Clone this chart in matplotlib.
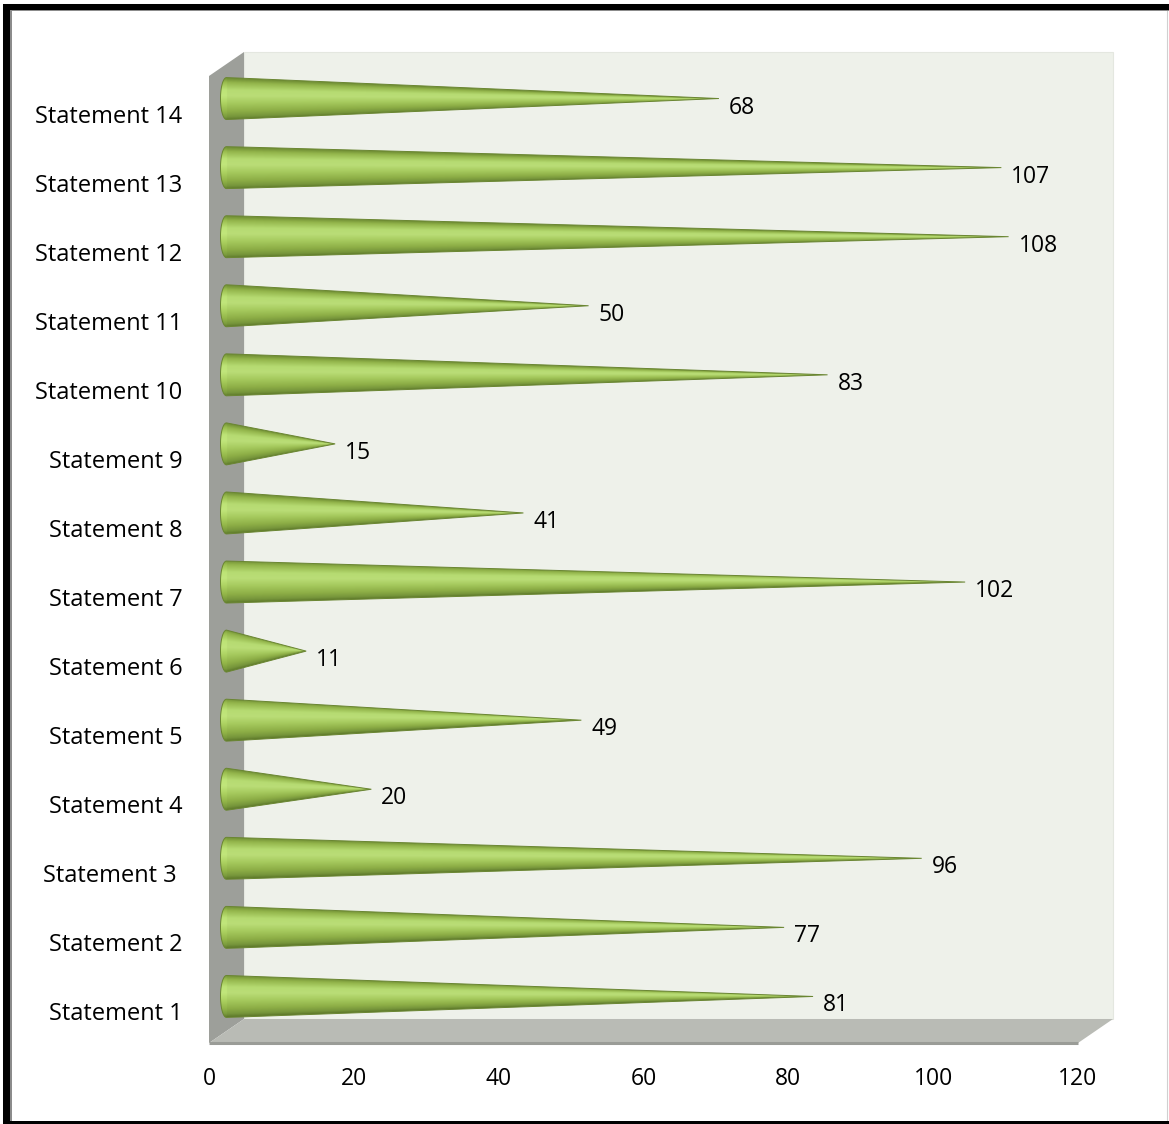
import numpy as np
import matplotlib
matplotlib.use("Agg")
import matplotlib.pyplot as plt
from matplotlib.patches import Polygon, Rectangle
from matplotlib.transforms import ScaledTranslation
from matplotlib.colors import LinearSegmentedColormap

categories = ["Statement 1", "Statement 2", "Statement 3 ", "Statement 4", "Statement 5",
              "Statement 6", "Statement 7", "Statement 8", "Statement 9", "Statement 10",
              "Statement 11", "Statement 12", "Statement 13", "Statement 14"]
values = [81, 77, 96, 20, 49, 11, 102, 41, 15, 83, 50, 108, 107, 68]
xticks = [0, 20, 40, 60, 80, 100, 120]

W, H = 1169, 1124
DPI = 100
plt.rcParams['font.family'] = ['Open Sans', 'DejaVu Sans']
fig = plt.figure(figsize=(W / DPI, H / DPI), dpi=DPI)
fig.patch.set_facecolor('white')

# front-plane axes box (pixels)
L, R, B, T = 209, 1078, 1043, 76
ax = fig.add_axes([L / W, 1 - B / H, (R - L) / W, (B - T) / H])
ax.set_xlim(0, 120)
ax.set_ylim(0, len(categories))
ppx = (R - L) / 120.0
ppy = (B - T) / len(categories)

# depth offset (pixels) -> data
DX, DY = 35, 24
dxd, dyd = DX / ppx, DY / ppy
n = len(categories)

# walls
back = Rectangle((dxd, dyd), 120, n, facecolor='#eef1ea', edgecolor='#e4e7e0', lw=0.8,
                 clip_on=False, zorder=0)
ax.add_patch(back)
left = Polygon([(0, 0), (0, n), (dxd, n + dyd), (dxd, dyd)], closed=True,
               facecolor='#9d9f9a', edgecolor='none', clip_on=False, zorder=1)
ax.add_patch(left)
floor = Polygon([(0, 0), (120, 0), (120 + dxd, dyd), (dxd, dyd)], closed=True,
                facecolor='#b9bbb5', edgecolor='none', clip_on=False, zorder=1)
ax.add_patch(floor)
ax.plot([0, 120], [0, 0], color='#9a9c97', lw=2.2, clip_on=False, zorder=1.5,
        solid_capstyle='butt')

# cone shading colormap (top -> bottom of cone)
cmap = LinearSegmentedColormap.from_list('cone', [
    (0.00, '#718f35'),
    (0.10, '#93b54b'),
    (0.28, '#b6db72'),
    (0.42, '#badd77'),
    (0.60, '#a6ca5e'),
    (0.80, '#8dae46'),
    (0.93, '#76953b'),
    (1.00, '#5f7a2b'),
])

r0 = 21.0 / ppy
a = 6.0 / ppx
x0 = dxd / 2.0
for i, v in enumerate(values):
    yc = i + 0.5 + dyd / 2.0
    tip = x0 + v
    th = np.linspace(np.pi / 2, 3 * np.pi / 2, 40)
    ell = np.column_stack([x0 + a * np.cos(th), yc + r0 * np.sin(th)])
    verts = np.vstack([ell, [[tip, yc]], ell[:1]])
    clip = Polygon(verts, closed=True, facecolor='none', edgecolor='none',
                   transform=ax.transData)
    outline = Polygon(verts, closed=True, facecolor='none', edgecolor='#6a8632',
                      lw=0.7, zorder=3, clip_on=False)
    ax.add_patch(outline)
    nx = max(int((v + a) * ppx * 1.5), 20)
    ny = 90
    xs = np.linspace(x0 - a, tip, nx)
    ys = np.linspace(yc + r0, yc - r0, ny)
    X, Y = np.meshgrid(xs, ys)
    rr = np.where(X < x0, r0, r0 * np.clip(1 - (X - x0) / v, 1e-3, 1))
    s = (-(Y - yc) / rr + 1) / 2.0
    s = np.clip(s, 0, 1)
    img = cmap(s)
    base = X < x0
    img[base, :3] = np.clip(img[base, :3] * 1.04, 0, 1)
    im = ax.imshow(img, extent=(x0 - a, tip, yc - r0, yc + r0), origin='upper',
                   aspect='auto', interpolation='bilinear', zorder=2)
    im.set_clip_path(clip)
    ax.annotate(str(v), xy=(tip, yc), xytext=(10, -9), textcoords='offset pixels',
                ha='left', va='center', fontsize=16.5, color='black', zorder=4)

ax.set_xlim(0, 120)
ax.set_ylim(0, n)
for sp in ax.spines.values():
    sp.set_visible(False)
ax.patch.set_visible(False)
ax.set_xticks(xticks)
ax.set_xticklabels([str(t) for t in xticks])
ax.set_yticks(np.arange(n) + 0.5)
ax.set_yticklabels(categories)
ax.tick_params(axis='both', length=0, labelsize=17)
ax.tick_params(axis='x', labelsize=16.5, pad=17)
ax.tick_params(axis='y', pad=19)
shift = ScaledTranslation(0, -3 / DPI, fig.dpi_scale_trans)
for lab in ax.get_yticklabels():
    lab.set_transform(lab.get_transform() + shift)

# frame
fig.add_artist(Rectangle((3 / W, 1 - 1123 / H), 1164 / W, 1119 / H, transform=fig.transFigure,
                         facecolor='none', edgecolor='#d0d0d0', lw=0.8))
fig.add_artist(Rectangle((3 / W, 1 - 10 / H), 1166 / W, 6 / H, transform=fig.transFigure,
                         facecolor='black', edgecolor='none'))
fig.add_artist(Rectangle((3 / W, 1 - 11 / H), 1166 / W, 1.5 / H, transform=fig.transFigure,
                         facecolor='#8c8c8c', edgecolor='none'))
fig.add_artist(Rectangle((3 / W, 1 - 1124 / H), 7 / W, 1120 / H, transform=fig.transFigure,
                         facecolor='black', edgecolor='none'))
fig.add_artist(Rectangle((10 / W, 1 - 1124 / H), 1.5 / W, 1114 / H, transform=fig.transFigure,
                         facecolor='#8c8c8c', edgecolor='none'))
fig.add_artist(Rectangle((3 / W, 1 - 1124 / H), 1166 / W, 3 / H, transform=fig.transFigure,
                         facecolor='black', edgecolor='none'))

fig.savefig('out.png', dpi=DPI)
